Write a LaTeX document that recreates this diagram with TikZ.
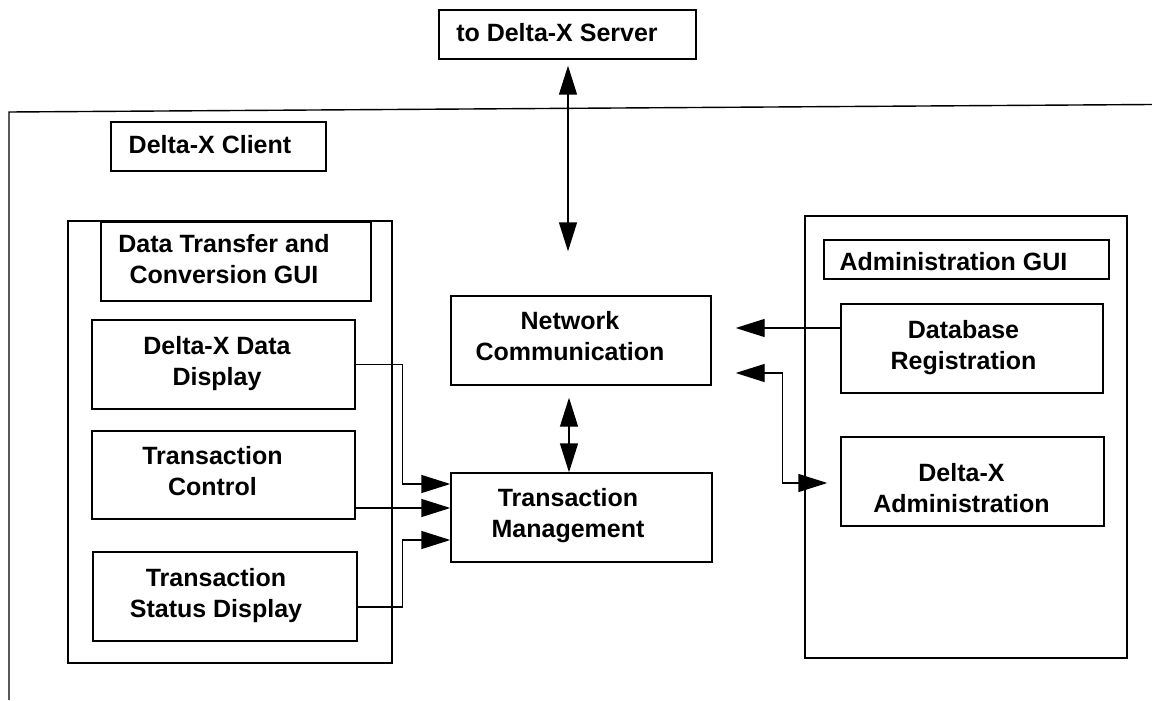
\documentclass[tikz,border=0pt]{standalone}
\usepackage{fontspec}
\setmainfont{Liberation Sans}
\usetikzlibrary{arrows.meta}
\begin{document}
\begin{tikzpicture}[x=1pt,y=-1pt,
  box/.style={draw, line width=1.4pt, inner sep=0pt},
  txt/.style={font=\bfseries\fontsize{25}{31}\selectfont, align=center, inner sep=0pt, anchor=base},
  conn/.style={line width=1.4pt},
  tip/.style={-{Triangle[length=29pt,width=18pt]}},
  bi/.style={{Triangle[length=29pt,width=18pt]}-{Triangle[length=29pt,width=18pt]}}]
\useasboundingbox (0,0) rectangle (1152,701);

% frame of the client
\draw[conn] (1152,104.5) -- (9,112) -- (9,700);

% boxes
\node[box, minimum width=257pt, minimum height=49pt] (server) at (567.5,34.5) {};
\node[box, minimum width=215pt, minimum height=49pt] (client) at (218.5,146.5) {};
\node[box, minimum width=324pt, minimum height=442pt] (leftgrp) at (230,442) {};
\node[box, minimum width=270pt, minimum height=79pt] (dtc) at (236,261.5) {};
\node[box, minimum width=263pt, minimum height=89pt] (ddisp) at (223.5,364.5) {};
\node[box, minimum width=263pt, minimum height=88pt] (tctl) at (223.5,475) {};
\node[box, minimum width=264pt, minimum height=89pt] (tstat) at (225,596.5) {};
\node[box, minimum width=260pt, minimum height=89pt] (nc) at (581,340.5) {};
\node[box, minimum width=261pt, minimum height=89pt] (tm) at (581.5,517.5) {};
\node[box, minimum width=322pt, minimum height=442pt] (admgrp) at (966,437) {};
\node[box, minimum width=285pt, minimum height=39pt] (admgui) at (966.5,259.5) {};
\node[box, minimum width=262pt, minimum height=89pt] (dbreg) at (972,348.5) {};
\node[box, minimum width=263pt, minimum height=89pt] (dxa) at (972.5,481.5) {};

% texts (anchor base = baseline of the last line)
\node[txt] (tserver) at (557,42) {to Delta-X Server};
\node[txt] (tclient) at (210,153) {Delta-X Client};
\node[txt] (tdtc) at (224,283) {Data Transfer and\\Conversion GUI};
\node[txt] (tddisp) at (217,385) {Delta-X Data\\Display};
\node[txt] (ttctl) at (212.5,495) {Transaction\\Control};
\node[txt] (ttstat) at (216,617) {Transaction\\Status Display};
\node[txt] (tnc) at (570,360) {Network\\Communication};
\node[txt] (ttm) at (568,537) {Transaction\\Management};
\node[txt] (tadmgui) at (953.5,270) {Administration GUI};
\node[txt] (tdbreg) at (963.5,369) {Database\\Registration};
\node[txt] (tdxa) at (961.5,512) {Delta-X\\Administration};

% connectors
\coordinate (s1) at ([xshift=0.5pt,yshift=-6pt]server.south);
\coordinate (s2) at ([xshift=-13pt,yshift=44pt]nc.north);
\draw[conn,bi] (s1) -- (s2);
\draw[conn,bi] ([xshift=-12pt,yshift=-12pt]nc.south) -- ([xshift=-12.5pt]tm.north);

\draw[conn,tip] (ddisp.east) -- ++(47,0) |- ([yshift=33.5pt]tm.west);
\draw[conn,tip] (tctl.east |- 0,508) -- ([yshift=9.5pt]tm.west);
\draw[conn,tip] ([yshift=-10.5pt]tstat.east) -- ++(45,0) |- ([yshift=-22.5pt]tm.west);

\coordinate (n1) at ([xshift=24pt,yshift=12.5pt]nc.east);
\coordinate (n2) at ([xshift=24pt,yshift=-32.5pt]nc.east);
\draw[conn,tip] (dbreg.west |- n1) -- (n1);
\draw[conn,bi] (n2) -- ++(47,0) |- ([xshift=-13pt,yshift=-1.5pt]dxa.west);
\end{tikzpicture}
\end{document}
